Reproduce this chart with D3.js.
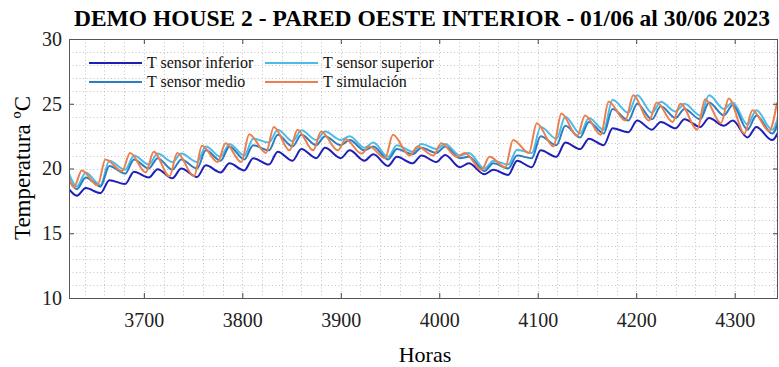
<!DOCTYPE html>
<html>
<head>
<meta charset="utf-8">
<script src="https://cdn.jsdelivr.net/npm/d3@7"></script>
<style>
  body { margin: 0; background: #fff; }
  svg { display: block; font-family: "Liberation Serif", "Times New Roman", serif; }
</style>
</head>
<body>
<svg id="chart" width="779" height="367"></svg>
<script>
// Horas del pico y del valle diario (sensores y simulación)
var horasPicoSensor  = [3641, 3665, 3690, 3714, 3738, 3763, 3787, 3811, 3836, 3860, 3884, 3909, 3933, 3957, 3982, 4006, 4030, 4055, 4079, 4103, 4128, 4152, 4176, 4201, 4225, 4249, 4274, 4298, 4322, 4347];
var horasValleSensor = [3632, 3656, 3681, 3705, 3729, 3754, 3778, 3802, 3827, 3851, 3875, 3900, 3924, 3948, 3973, 3997, 4021, 4046, 4070, 4094, 4119, 4143, 4167, 4192, 4216, 4240, 4265, 4289, 4313, 4338];
var horasPicoSim     = [3637, 3661, 3686, 3710, 3734, 3759, 3783, 3807, 3832, 3856, 3880, 3905, 3929, 3953, 3978, 4002, 4026, 4051, 4075, 4099, 4124, 4148, 4172, 4197, 4221, 4245, 4270, 4294, 4318, 4343];
var horasValleSim    = [3629, 3653, 3678, 3702, 3726, 3751, 3775, 3799, 3824, 3848, 3872, 3897, 3921, 3945, 3970, 3994, 4018, 4043, 4067, 4091, 4116, 4140, 4164, 4189, 4213, 4237, 4262, 4286, 4310, 4335];

var horaInicio = 3624;
// valor a la hora de inicio: inferior, superior, medio, simulación
var valoresInicio = [18.4, 19.6, 19.1, 19.3];

var inferiorValle = [17.9, 18.1, 18.8, 19.3, 19.25, 19.35, 19.7, 19.85, 20.3, 20.6, 20.8, 20.8, 20.6, 20.2, 20.4, 20.5, 20.1, 19.55, 19.5, 20.1, 20.9, 21.5, 21.8, 22.8, 23.0, 23.1, 23.2, 23.3, 22.4, 22.2];
var inferiorPico  = [18.5, 19.1, 19.75, 19.95, 20.0, 20.25, 20.4, 20.8, 21.3, 21.5, 21.6, 21.4, 21.1, 20.9, 21.0, 21.05, 20.4, 19.9, 20.6, 21.4, 22.0, 22.3, 23.1, 23.7, 23.6, 23.8, 23.9, 23.7, 23.2, 23.3];

var superiorValle = [18.6, 18.7, 19.9, 20.3, 20.5, 20.5, 20.9, 21.0, 22.0, 22.1, 22.2, 22.2, 21.6, 20.9, 21.3, 21.5, 21.0, 20.0, 20.3, 21.2, 22.3, 22.7, 23.0, 24.3, 24.3, 24.4, 24.1, 24.6, 23.4, 23.0];
var superiorPico  = [19.7, 20.6, 21.0, 21.15, 21.15, 21.7, 21.9, 22.3, 23.0, 22.95, 22.85, 22.5, 22.0, 21.8, 21.9, 21.9, 21.2, 20.6, 21.45, 23.2, 24.0, 23.9, 25.3, 25.65, 25.15, 25.0, 25.65, 25.1, 24.5, 24.8];

var medioValle = [18.4, 18.6, 19.6, 20.0, 19.9, 20.0, 20.6, 20.7, 21.4, 21.7, 21.8, 21.8, 21.4, 20.7, 21.1, 21.2, 20.8, 19.8, 20.0, 20.8, 21.8, 22.4, 22.7, 23.7, 23.8, 23.9, 23.8, 24.1, 23.0, 22.7];
var medioPico  = [19.3, 20.2, 20.7, 20.8, 20.7, 21.4, 21.7, 21.8, 22.6, 22.6, 22.5, 22.2, 21.7, 21.5, 21.6, 21.7, 20.9, 20.4, 21.0, 22.5, 23.3, 23.6, 24.6, 25.0, 24.8, 24.6, 25.1, 24.9, 24.1, 24.3];

var simValle = [18.55, 18.7, 19.8, 19.7, 19.4, 19.4, 20.5, 20.5, 21.2, 21.4, 21.4, 21.4, 21.15, 20.8, 21.0, 21.0, 20.9, 19.9, 20.1, 21.2, 21.7, 22.5, 22.6, 23.7, 23.7, 23.6, 23.0, 23.5, 22.7, 22.9];
var simPico  = [19.85, 20.7, 21.2, 21.3, 21.2, 21.75, 21.95, 22.65, 23.2, 23.0, 22.85, 22.25, 21.7, 22.6, 21.7, 21.95, 21.2, 20.9, 22.2, 23.5, 24.25, 24.1, 25.15, 25.65, 25.1, 25.0, 25.35, 25.4, 24.5, 25.1];

var nombres = ["T sensor inferior", "T sensor superior", "T sensor medio", "T simulación"];
var colores = ["#1f1fb8", "#4dbbea", "#2b7fc0", "#ee7f4c"];
var ticksX = [3700, 3800, 3900, 4000, 4100, 4200, 4300];
var ticksY = [10, 15, 20, 25, 30];

function serie(k, horasValle, valle, horasPico, pico) {
  var pts = [[horaInicio, valoresInicio[k]]];
  valle.forEach(function(v, i) {
    pts.push([horasValle[i], v]);
    pts.push([horasPico[i], pico[i]]);
  });
  return pts;
}

var series = [
  serie(0, horasValleSensor, inferiorValle, horasPicoSensor, inferiorPico),
  serie(1, horasValleSensor, superiorValle, horasPicoSensor, superiorPico),
  serie(2, horasValleSensor, medioValle, horasPicoSensor, medioPico),
  serie(3, horasValleSim, simValle, horasPicoSim, simPico)
];

var svg = d3.select("#chart");
var mIzq = 69, mDer = 778, mSup = 39, mInf = 298;

var x = d3.scaleLinear().domain([3624, 4344]).range([mIzq, mDer]);
var y = d3.scaleLinear().domain([10, 30]).range([mInf, mSup]);

svg.append("defs").append("clipPath").attr("id", "clip")
  .append("rect").attr("x", mIzq).attr("y", mSup)
  .attr("width", mDer - mIzq).attr("height", mInf - mSup);

// rejilla punteada
var grid = svg.append("g").attr("stroke", "#c4c4c4").attr("stroke-dasharray", "1,2.5");
grid.selectAll("line.gx")
  .data(d3.range(3640, 4344, 20))
  .join("line").attr("class", "gx")
  .attr("x1", function(d){ return Math.round(x(d)) + 0.5; }).attr("x2", function(d){ return Math.round(x(d)) + 0.5; })
  .attr("y1", mSup).attr("y2", mInf);
grid.selectAll("line.gy")
  .data(d3.range(11, 30, 1))
  .join("line").attr("class", "gy")
  .attr("y1", function(d){ return Math.round(y(d)) + 0.5; }).attr("y2", function(d){ return Math.round(y(d)) + 0.5; })
  .attr("x1", mIzq).attr("x2", mDer);

// líneas
var linea = d3.line()
  .x(function(d){ return x(d[0]); })
  .y(function(d){ return y(d[1]); })
  .curve(d3.curveMonotoneX);

svg.append("g").attr("clip-path", "url(#clip)")
  .selectAll("path")
  .data(series)
  .join("path")
  .attr("d", linea)
  .attr("fill", "none")
  .attr("stroke", function(d, i){ return colores[i]; })
  .attr("stroke-width", 2)
  .attr("stroke-linejoin", "round");

// ejes
function estilo(g) {
  g.select(".domain").remove();
  g.selectAll(".tick line").attr("stroke", "#444");
  g.selectAll(".tick text").attr("fill", "#222").style("font-size", "20px")
    .style("font-family", "'Liberation Serif', serif");
}

svg.append("g").attr("transform", "translate(0," + mInf + ")")
  .call(d3.axisBottom(x).tickValues(ticksX).tickSizeInner(-5).tickSizeOuter(0).tickPadding(15).tickFormat(d3.format("d")))
  .call(estilo);
svg.append("g").attr("transform", "translate(0," + mSup + ")")
  .call(d3.axisTop(x).tickValues(ticksX).tickSizeInner(-5).tickSizeOuter(0).tickFormat(""))
  .call(estilo);
svg.append("g").attr("transform", "translate(" + mIzq + ",0)")
  .call(d3.axisLeft(y).tickValues(ticksY).tickSizeInner(-5).tickSizeOuter(0).tickPadding(7).tickFormat(d3.format("d")))
  .call(estilo);
svg.append("g").attr("transform", "translate(" + mDer + ",0)")
  .call(d3.axisRight(y).tickValues(ticksY).tickSizeInner(-5).tickSizeOuter(0).tickFormat(""))
  .call(estilo);

svg.append("rect")
  .attr("x", mIzq + 0.5).attr("y", mSup + 0.5)
  .attr("width", mDer - mIzq - 1).attr("height", mInf - mSup)
  .attr("fill", "none").attr("stroke", "#555").attr("stroke-width", 1);

// leyenda
var leyenda = svg.append("g");
var posLey = [[89, 63], [265, 63], [89, 82], [265, 82]];
nombres.forEach(function(n, i) {
  var p = posLey[i];
  leyenda.append("line")
    .attr("x1", p[0]).attr("x2", p[0] + 53)
    .attr("y1", p[1]).attr("y2", p[1])
    .attr("stroke", colores[i]).attr("stroke-width", 2);
  leyenda.append("text")
    .attr("x", p[0] + 58).attr("y", p[1] + 5)
    .style("font-size", "16px").attr("fill", "#111")
    .text(n);
});

// textos
svg.append("text")
  .attr("x", 422).attr("y", 26)
  .attr("text-anchor", "middle")
  .style("font-size", "23.5px").style("font-weight", "bold")
  .text("DEMO HOUSE 2 - PARED OESTE INTERIOR - 01/06 al 30/06 2023");

svg.append("text")
  .attr("x", 425).attr("y", 362)
  .attr("text-anchor", "middle")
  .style("font-size", "22px")
  .text("Horas");

svg.append("text")
  .attr("transform", "translate(30,168) rotate(-90)")
  .attr("text-anchor", "middle")
  .style("font-size", "23px")
  .text("Temperatura ºC");
</script>
</body>
</html>
